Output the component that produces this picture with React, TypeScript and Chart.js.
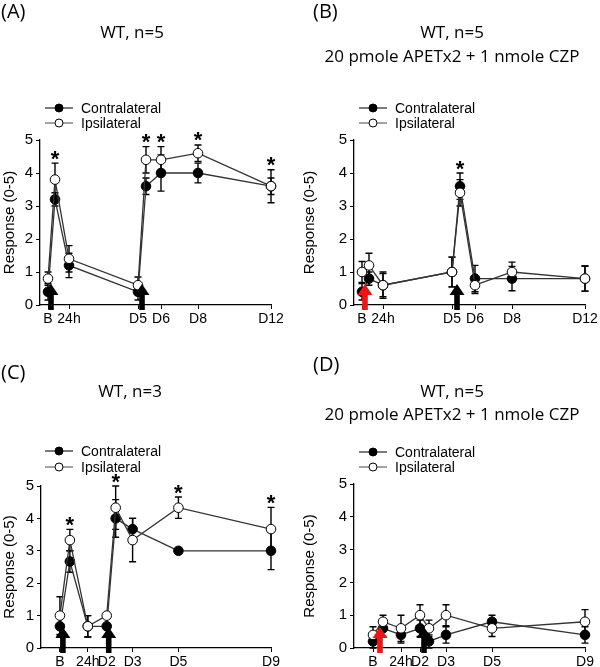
import React, { useEffect, useRef } from 'react';
import { Chart, registerables } from 'chart.js';
Chart.register(...registerables);

// ---- Data ----
// Timeline positions (x units) and tick labels
const ticksAB = [8, 29, 98, 121, 158, 231];
const tickLabelsAB = ['B', '24h', 'D5', 'D6', 'D8', 'D12'];
const timesAB = [8, 15, 29, 98, 106, 121, 158, 231];
const ticksCD = [19, 47, 66, 92, 138, 231];
const tickLabelsCD = ['B', '24h', 'D2', 'D3', 'D5', 'D9'];
const timesCD = [19, 29, 47, 66, 75, 92, 138, 231];

// Panel A
const contraA = [0.4, 3.2, 1.2, 0.4, 3.6, 4.0, 4.0, 3.6];
const contraErrA = [0.25, 0.2, 0.37, 0.25, 0.25, 0.55, 0.3, 0.25];
const ipsiA = [0.8, 3.8, 1.4, 0.6, 4.4, 4.4, 4.6, 3.6];
const ipsiErrA = [0.2, 0.5, 0.4, 0.25, 0.4, 0.4, 0.25, 0.5];
const starsA = [1, 4, 5, 6, 7];
const arrowsA = [11, 102];
const arrowColorsA = ['#000000', '#000000'];

// Panel B
const contraB = [0.4, 0.8, 0.6, 1.0, 3.6, 0.8, 0.8, 0.8];
const contraErrB = [0.25, 0.2, 0.35, 0.45, 0.4, 0.4, 0.37, 0.38];
const ipsiB = [1.0, 1.2, 0.6, 1.0, 3.4, 0.6, 1.0, 0.8];
const ipsiErrB = [0.32, 0.37, 0.4, 0.45, 0.4, 0.25, 0.3, 0.38];
const starsB = [4];
const arrowsB = [11, 103];
const arrowColorsB = ['#f01414', '#000000'];

// Panel C
const contraC = [0.67, 2.67, 0.67, 0.67, 4.0, 3.67, 3.0, 3.0];
const contraErrC = [0.3, 0.33, 0.33, 0.3, 0.58, 0.33, 0, 0.58];
const ipsiC = [1.0, 3.33, 0.67, 1.0, 4.33, 3.33, 4.33, 3.67];
const ipsiErrC = [0.58, 0.33, 0.33, 0, 0.67, 0.67, 0.33, 0.67];
const starsC = [1, 4, 6, 7];
const arrowsC = [22, 68];
const arrowColorsC = ['#000000', '#000000'];

// Panel D
const contraD = [0.2, 0.6, 0.4, 0.6, 0.2, 0.4, 0.8, 0.4];
const contraErrD = [0.2, 0.25, 0.25, 0.25, 0.2, 0.25, 0.2, 0.25];
const ipsiD = [0.4, 0.8, 0.6, 1.0, 0.6, 1.0, 0.6, 0.8];
const ipsiErrD = [0.25, 0.2, 0.4, 0.32, 0.25, 0.32, 0.25, 0.37];
const starsD: number[] = [];
const arrowsD = [26, 70];
const arrowColorsD = ['#f01414', '#000000'];

const seriesNames = ['Contralateral', 'Ipsilateral'];
const titleA = ['WT, n=5'];
const titleB = ['WT, n=5', '20 pmole APETx2 + 1 nmole CZP'];
const titleC = ['WT, n=3'];
const titleD = ['WT, n=5', '20 pmole APETx2 + 1 nmole CZP'];

// ---- Layout / style ----
const SANS = '"Liberation Sans", Arial, sans-serif';
const TITLE_FONT = '"Open Sans", "Noto Sans", sans-serif';

type PanelData = {
  ticks: number[]; tickLabels: string[]; times: number[];
  contra: number[]; contraErr: number[]; ipsi: number[]; ipsiErr: number[];
  stars: number[]; arrows: number[]; arrowColors: string[]; title: string[]; label: string;
};
type PanelLayout = {
  left: number; top: number; w: number; h: number;
  chartTop: number; chartBottom: number; axisLeft: number; axisRight: number;
  titleX: number; titleY: number[]; labelX: number; labelY: number;
  legendX: number; legendY: number[];
};

const panels: { d: PanelData; l: PanelLayout }[] = [
  {
    d: { ticks: ticksAB, tickLabels: tickLabelsAB, times: timesAB, contra: contraA, contraErr: contraErrA, ipsi: ipsiA, ipsiErr: ipsiErrA, stars: starsA, arrows: arrowsA, arrowColors: arrowColorsA, title: titleA, label: '(A)' },
    l: { left: 0, top: 0, w: 300, h: 333, chartTop: 140, chartBottom: 305, axisLeft: 40, axisRight: 271, titleX: 132, titleY: [33], labelX: 1, labelY: 12, legendX: 45, legendY: [108, 123] },
  },
  {
    d: { ticks: ticksAB, tickLabels: tickLabelsAB, times: timesAB, contra: contraB, contraErr: contraErrB, ipsi: ipsiB, ipsiErr: ipsiErrB, stars: starsB, arrows: arrowsB, arrowColors: arrowColorsB, title: titleB, label: '(B)' },
    l: { left: 300, top: 0, w: 300, h: 333, chartTop: 140, chartBottom: 305, axisLeft: 54, axisRight: 285, titleX: 152, titleY: [33, 57], labelX: 13, labelY: 12, legendX: 59, legendY: [108, 123] },
  },
  {
    d: { ticks: ticksCD, tickLabels: tickLabelsCD, times: timesCD, contra: contraC, contraErr: contraErrC, ipsi: ipsiC, ipsiErr: ipsiErrC, stars: starsC, arrows: arrowsC, arrowColors: arrowColorsC, title: titleC, label: '(C)' },
    l: { left: 0, top: 333, w: 300, h: 334, chartTop: 153, chartBottom: 315, axisLeft: 41, axisRight: 271, titleX: 130, titleY: [59], labelX: 1, labelY: 40, legendX: 45, legendY: [118, 134] },
  },
  {
    d: { ticks: ticksCD, tickLabels: tickLabelsCD, times: timesCD, contra: contraD, contraErr: contraErrD, ipsi: ipsiD, ipsiErr: ipsiErrD, stars: starsD, arrows: arrowsD, arrowColors: arrowColorsD, title: titleD, label: '(D)' },
    l: { left: 300, top: 333, w: 300, h: 334, chartTop: 151, chartBottom: 315, axisLeft: 54, axisRight: 285, titleX: 152, titleY: [59, 82], labelX: 13, labelY: 32, legendX: 59, legendY: [119, 134] },
  },
];

function makePlugin(d: PanelData, l: PanelLayout) {
  return {
    id: 'decor',
    beforeDatasetsDraw(chart: any) {
      const { ctx, scales } = chart;
      const x = scales.x, y = scales.y;
      ctx.save();
      ctx.strokeStyle = '#000';
      ctx.lineWidth = 1.4;
      const sets: [number[], number[]][] = [[d.contra, d.contraErr], [d.ipsi, d.ipsiErr]];
      sets.forEach(([vals, errs]) => {
        vals.forEach((v, i) => {
          const e = errs[i];
          if (!e) return;
          const px = x.getPixelForValue(d.times[i]);
          const y1 = y.getPixelForValue(v + e);
          const y2 = y.getPixelForValue(Math.max(0, v - e));
          ctx.beginPath();
          ctx.moveTo(px, y1); ctx.lineTo(px, y2);
          ctx.moveTo(px - 3.5, y1); ctx.lineTo(px + 3.5, y1);
          ctx.moveTo(px - 3.5, y2); ctx.lineTo(px + 3.5, y2);
          ctx.stroke();
        });
      });
      ctx.restore();
    },
    afterDatasetsDraw(chart: any) {
      const { ctx, scales } = chart;
      const x = scales.x, y = scales.y;
      const y0 = y.getPixelForValue(0);
      ctx.save();
      // arrows
      d.arrows.forEach((t, i) => {
        const px = x.getPixelForValue(t);
        const tip = y0 - 21, headBase = tip + 11, bottom = y0 + 5;
        ctx.fillStyle = d.arrowColors[i];
        ctx.beginPath();
        ctx.moveTo(px, tip);
        ctx.lineTo(px + 7.5, headBase);
        ctx.lineTo(px + 2.8, headBase);
        ctx.lineTo(px + 2.8, bottom);
        ctx.lineTo(px - 2.8, bottom);
        ctx.lineTo(px - 2.8, headBase);
        ctx.lineTo(px - 7.5, headBase);
        ctx.closePath();
        ctx.fill();
      });
      // asterisks
      ctx.fillStyle = '#000';
      ctx.font = `bold 22px ${SANS}`;
      ctx.textAlign = 'center';
      ctx.textBaseline = 'alphabetic';
      const m = ctx.measureText('*');
      const asc = m.actualBoundingBoxAscent || 15;
      const desc = m.actualBoundingBoxDescent || -7;
      const centerOff = (asc - desc) / 2;
      d.stars.forEach((i) => {
        const top = Math.max(d.contra[i] + d.contraErr[i], d.ipsi[i] + d.ipsiErr[i]);
        const px = x.getPixelForValue(d.times[i]);
        const cy = y.getPixelForValue(top) - 8;
        ctx.fillText('*', px, cy + centerOff);
      });
      ctx.restore();
    },
    afterDraw(chart: any) {
      const { ctx } = chart;
      ctx.save();
      // panel label
      ctx.fillStyle = '#000';
      ctx.textAlign = 'left';
      ctx.textBaseline = 'middle';
      ctx.font = `20px ${TITLE_FONT}`;
      ctx.fillText(d.label, l.labelX, l.labelY);
      // title
      ctx.textAlign = 'center';
      ctx.font = `17px ${TITLE_FONT}`;
      d.title.forEach((t, i) => ctx.fillText(t, l.titleX, l.titleY[i]));
      // legend
      ctx.font = `14px ${SANS}`;
      ctx.textAlign = 'left';
      seriesNames.forEach((name, i) => {
        const ly = l.legendY[i];
        ctx.strokeStyle = i === 0 ? '#222' : '#666';
        ctx.lineWidth = 1.2;
        ctx.beginPath();
        ctx.moveTo(l.legendX, ly);
        ctx.lineTo(l.legendX + 28, ly);
        ctx.stroke();
        ctx.beginPath();
        ctx.arc(l.legendX + 14, ly, 4, 0, Math.PI * 2);
        ctx.fillStyle = i === 0 ? '#000' : '#fff';
        ctx.fill();
        ctx.strokeStyle = '#000';
        ctx.lineWidth = 1;
        ctx.stroke();
        ctx.fillStyle = '#000';
        ctx.fillText(name, l.legendX + 36, ly + 1);
      });
      ctx.restore();
    },
  };
}

function Panel({ d, l }: { d: PanelData; l: PanelLayout }) {
  const ref = useRef<HTMLCanvasElement | null>(null);
  useEffect(() => {
    if (!ref.current) return;
    const toPts = (vals: number[]) => vals.map((v, i) => ({ x: d.times[i], y: v }));
    const chart = new Chart(ref.current, {
      type: 'line',
      data: {
        datasets: [
          {
            label: seriesNames[0], data: toPts(d.contra), borderColor: '#333', borderWidth: 1.3,
            pointRadius: 4.8, pointBackgroundColor: '#000', pointBorderColor: '#000', pointBorderWidth: 1,
            tension: 0, clip: false as any, order: 2,
          },
          {
            label: seriesNames[1], data: toPts(d.ipsi), borderColor: '#333', borderWidth: 1.3,
            pointRadius: 4.8, pointBackgroundColor: '#fff', pointBorderColor: '#000', pointBorderWidth: 1,
            tension: 0, clip: false as any, order: 1,
          },
        ],
      },
      options: {
        animation: false,
        responsive: false,
        devicePixelRatio: 1,
        layout: { padding: { top: l.chartTop, right: l.w - l.axisRight, left: 0, bottom: 0 } },
        plugins: { legend: { display: false }, tooltip: { enabled: false }, title: { display: false } },
        scales: {
          x: {
            type: 'linear', min: 0, max: d.ticks[d.ticks.length - 1],
            afterBuildTicks: (s: any) => { s.ticks = d.ticks.map((v) => ({ value: v })); },
            afterFit: (s: any) => { s.height = l.h - l.chartBottom; },
            ticks: {
              autoSkip: false, maxRotation: 0, color: '#000', padding: 2,
              font: { family: SANS, size: 14 },
              callback: (_v: any, i: number) => d.tickLabels[i],
            },
            grid: { drawOnChartArea: false, drawTicks: true, tickLength: 4, color: '#000' },
            border: { display: true, color: '#000', width: 1.3 },
          },
          y: {
            type: 'linear', min: 0, max: 5,
            afterFit: (s: any) => { s.width = l.axisLeft; },
            ticks: { stepSize: 1, color: '#000', padding: 3, font: { family: SANS, size: 15 } },
            grid: { drawOnChartArea: false, drawTicks: true, tickLength: 4, color: '#000' },
            border: { display: true, color: '#000', width: 1.3 },
            title: { display: true, text: 'Response (0-5)', color: '#000', padding: { top: 1, bottom: 0 }, font: { family: SANS, size: 15 } },
          },
        },
      },
      plugins: [makePlugin(d, l)],
    } as any);
    return () => chart.destroy();
  }, []);
  return (
    <canvas
      ref={ref}
      width={l.w}
      height={l.h}
      style={{ position: 'absolute', left: l.left, top: l.top, width: l.w, height: l.h }}
    />
  );
}

export default function App() {
  return (
    <div style={{ position: 'absolute', left: 0, top: 0, width: 600, height: 667, background: '#fff', overflow: 'hidden' }}>
      {panels.map((p, i) => <Panel key={i} d={p.d} l={p.l} />)}
    </div>
  );
}
